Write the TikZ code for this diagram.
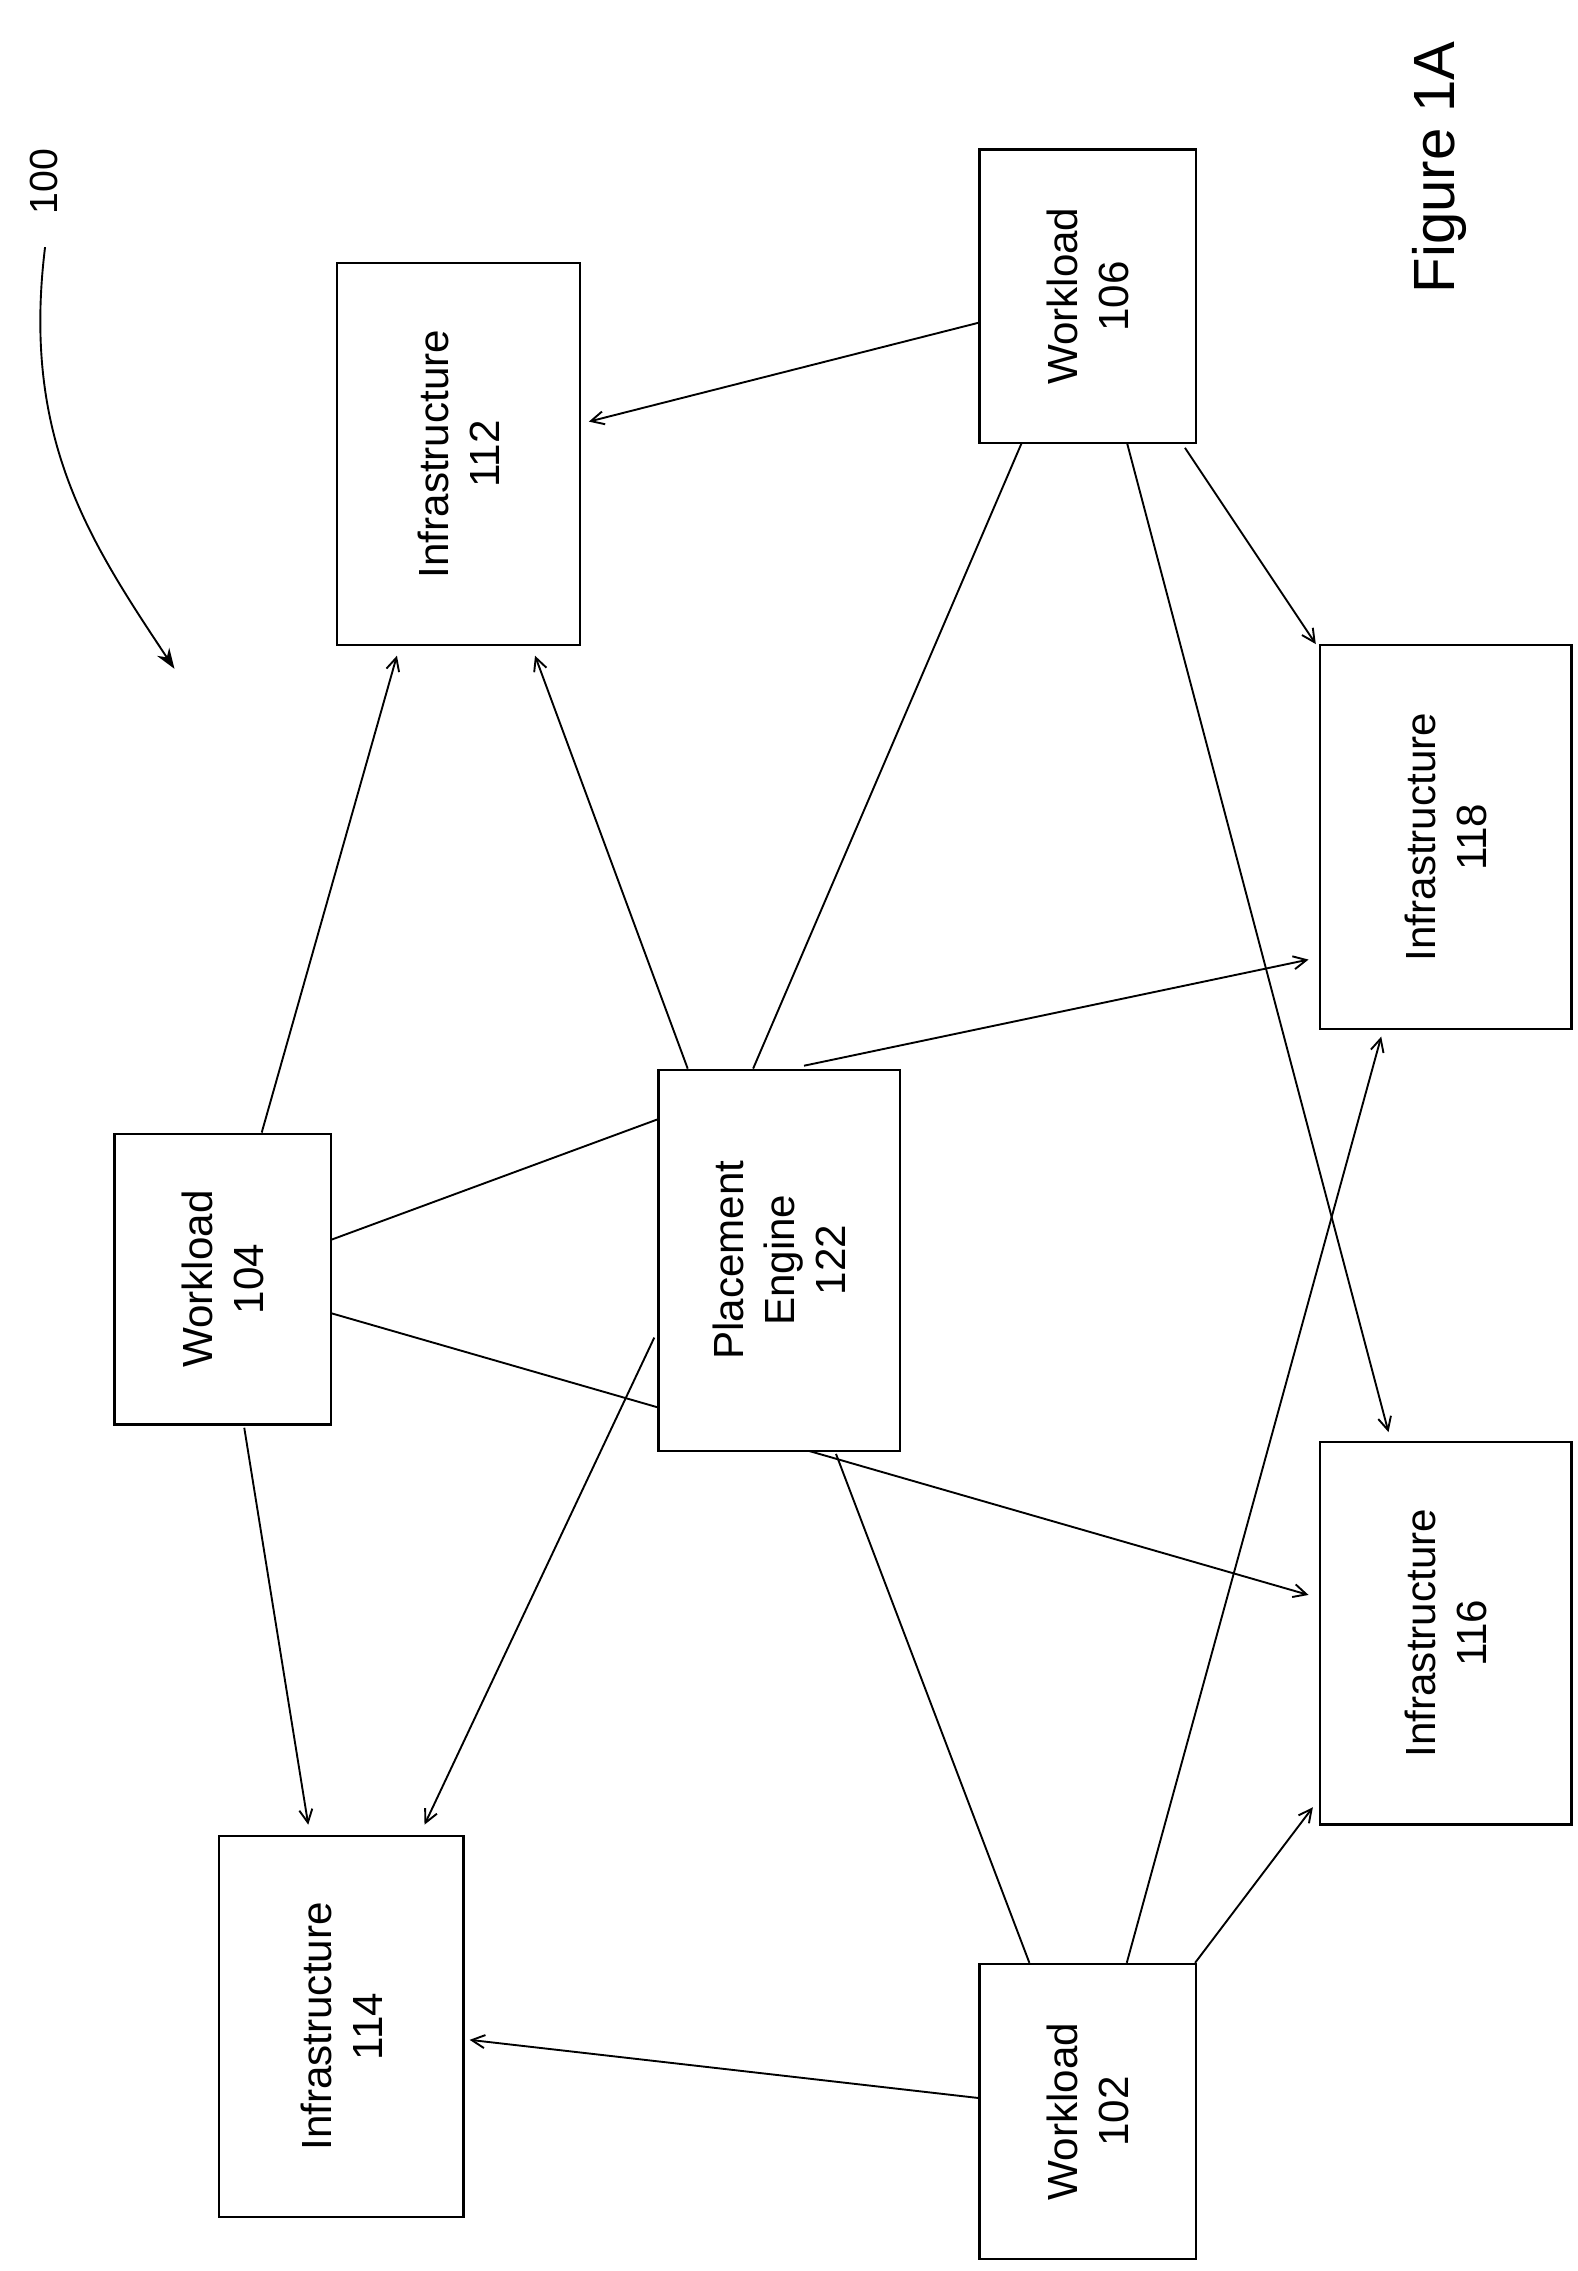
\documentclass[tikz,border=0pt]{standalone}
\usepackage{fontspec}
\setmainfont{Liberation Sans}
\usetikzlibrary{arrows.meta}
\begin{document}
\begin{tikzpicture}[x=1pt,y=-1pt,
  box/.style={draw,line width=1.6pt,fill=white,anchor=north west,inner sep=0pt},
  lbl/.style={rotate=90,align=center,font=\fontsize{29}{35}\selectfont},
  arr/.style={->,line width=1.3pt,>={Straight Barb[length=9pt,width=9pt]}},
  ln/.style={line width=1.3pt}]
\useasboundingbox (0,0) rectangle (1085,1562);
% connectors first
\draw[arr] (673,222) -- (405,290);
\draw[ln] (703,304) -- (518,735);
\draw[arr] (775,304) -- (955,985);
\draw[arr] (815,308) -- (905,443);
\draw[arr] (180,779) -- (273,451);
\draw[arr] (473,735) -- (368,451);
\draw[arr] (553,733) -- (900,660);
\draw[ln] (227,853) -- (452,770);
\draw[arr] (227,903) -- (900,1097);
\draw[arr] (450,920) -- (292,1255);
\draw[arr] (168,982) -- (212,1255);
\draw[ln] (575,1000) -- (708,1350);
\draw[arr] (775,1350) -- (950,713);
\draw[arr] (822,1350) -- (903,1243);
\draw[arr] (673,1443) -- (323,1403);
% boxes
\node[box,minimum width=167pt,minimum height=263pt] (i112) at (231,180) {};
\node[lbl] at (i112.center) {Infrastructure\\112};
\node[box,minimum width=149pt,minimum height=202pt] (w106) at (673,102) {};
\node[lbl] at (w106.center) {Workload\\106};
\node[box,minimum width=173pt,minimum height=264pt] (i118) at (907,443) {};
\node[lbl] at (i118.center) {Infrastructure\\118};
\node[box,minimum width=149pt,minimum height=200pt] (w104) at (78,779) {};
\node[lbl] at (w104.center) {Workload\\104};
\node[box,minimum width=166pt,minimum height=262pt] (pe) at (452,735) {};
\node[lbl] at (pe.center) {Placement\\Engine\\122};
\node[box,minimum width=173pt,minimum height=263pt] (i116) at (907,991) {};
\node[lbl] at (i116.center) {Infrastructure\\116};
\node[box,minimum width=168pt,minimum height=262pt] (i114) at (150,1262) {};
\node[lbl] at (i114.center) {Infrastructure\\114};
\node[box,minimum width=149pt,minimum height=203pt] (w102) at (673,1350) {};
\node[lbl] at (w102.center) {Workload\\102};
% label 100
\node[rotate=90,font=\fontsize{27}{30}\selectfont] (l100) at (30,125) {100};
\coordinate (c1) at (31,170);
\coordinate (c2) at (120,460);
\draw[->,line width=1.3pt,>={Stealth[length=14pt,width=10pt]}] (c1) .. controls (15,300) and (60,370) .. (c2);
\node[rotate=90,font=\fontsize{40}{42}\selectfont] (fig) at (990,115) {Figure 1A};
\end{tikzpicture}
\end{document}
